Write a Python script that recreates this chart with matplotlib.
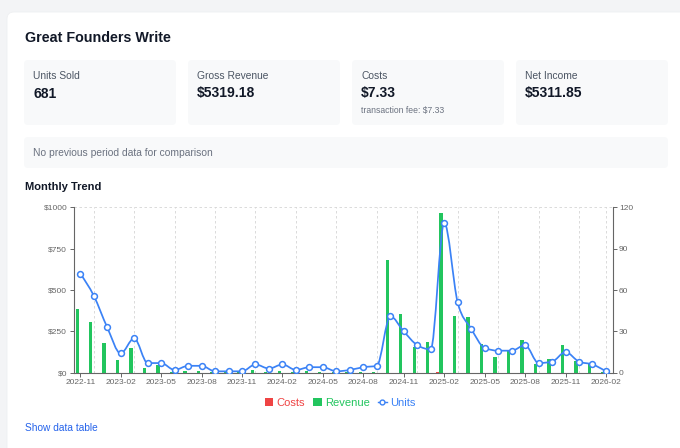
import numpy as np
import matplotlib
matplotlib.use("Agg")
import matplotlib.pyplot as plt
from matplotlib.patches import FancyBboxPatch, Patch, PathPatch
from matplotlib.lines import Line2D
from matplotlib.path import Path

# ---------------- data ----------------
months = ["2022-11", "2022-12", "2023-01", "2023-02", "2023-03", "2023-04", "2023-05", "2023-06",
          "2023-07", "2023-08", "2023-09", "2023-10", "2023-11", "2023-12", "2024-01", "2024-02",
          "2024-03", "2024-04", "2024-05", "2024-06", "2024-07", "2024-08", "2024-09", "2024-10",
          "2024-11", "2024-12", "2025-01", "2025-02", "2025-03", "2025-04", "2025-05", "2025-06",
          "2025-07", "2025-08", "2025-09", "2025-10", "2025-11", "2025-12", "2026-01", "2026-02"]
revenue = [385, 309, 182, 75, 150, 28, 45, 5, 12, 12, 2, 2, 2, 16, 5, 10, 3, 8, 6, 2,
           2, 6, 3, 680, 356, 154, 186, 966, 343, 335, 174, 97, 135, 196, 50, 81, 168, 73, 50, 5]
costs = [0.53, 0.43, 0.25, 0.10, 0.21, 0.04, 0.06, 0.01, 0.02, 0.02, 0.0, 0.0, 0.0, 0.02, 0.01,
         0.01, 0.0, 0.01, 0.01, 0.0, 0.0, 0.01, 0.01, 0.94, 0.49, 0.21, 0.26, 1.33, 0.47, 0.46,
         0.24, 0.13, 0.19, 0.27, 0.07, 0.11, 0.23, 0.10, 0.07, 0.01]
units = [72, 56, 33, 14, 25, 7, 7, 2, 5, 5, 1, 1, 1, 6, 3, 6, 2, 4, 4, 1,
         2, 4, 5, 41, 30, 20, 17, 109, 51, 32, 18, 16, 16, 20, 7, 8, 15, 8, 6, 1]

title = "Great Founders Write"
stat_labels = ["Units Sold", "Gross Revenue", "Costs", "Net Income"]
stat_values = ["681", "$5319.18", "$7.33", "$5311.85"]
cost_note = "transaction fee: $7.33"
comparison_text = "No previous period data for comparison"
chart_title = "Monthly Trend"
link_text = "Show data table"
left_ticks = [0, 250, 500, 750, 1000]
left_ticklabels = ["$0", "$250", "$500", "$750", "$1000"]
right_ticks = [0, 30, 60, 90, 120]
legend_labels = ["Costs", "Revenue", "Units"]

# ---------------- style ----------------
C_COST = "#ef4444"
C_REV = "#22c55e"
C_UNITS = "#3b82f6"
AXIS_C = "#666666"
FONT = ["Liberation Sans", "DejaVu Sans"]
plt.rcParams["font.family"] = FONT

W, H = 680, 448
fig = plt.figure(figsize=(W / 100, H / 100), dpi=100)
fig.patch.set_facecolor("#f3f4f6")

bg = fig.add_axes([0, 0, 1, 1])
bg.set_xlim(0, W)
bg.set_ylim(H, 0)
bg.axis("off")

# card
bg.add_patch(FancyBboxPatch((7, 12), 700, 460, boxstyle="round,pad=0,rounding_size=7",
                            facecolor="white", edgecolor="#eef0f2", linewidth=0.6))
bg.text(25, 38.5, title, fontsize=10.3, fontweight="bold", color="#111827", va="center", ha="left")

box_x = [24, 188, 352, 516]
for i, bx in enumerate(box_x):
    bg.add_patch(FancyBboxPatch((bx, 60), 152, 65, boxstyle="round,pad=0,rounding_size=4",
                                facecolor="#f8f9fa", edgecolor="none"))
    bg.text(bx + 9, 76, stat_labels[i], fontsize=7.4, color="#4b5563", va="center", ha="left")
    bg.text(bx + 9, 93.5, stat_values[i], fontsize=10, fontweight="bold", color="#111827",
            va="center", ha="left")
bg.text(box_x[2] + 9, 111, cost_note, fontsize=6.2, color="#6b7280", va="center", ha="left")

bg.add_patch(FancyBboxPatch((24, 137), 644, 31, boxstyle="round,pad=0,rounding_size=4",
                            facecolor="#f8f9fa", edgecolor="none"))
bg.text(33, 152.5, comparison_text, fontsize=7.4, color="#6b7280", va="center", ha="left")
bg.text(25, 187, chart_title, fontsize=8, fontweight="bold", color="#111827", va="center", ha="left")
bg.text(25, 428, link_text, fontsize=7.3, color="#2563eb", va="center", ha="left")

# ---------------- chart ----------------
L, R, T, B = 73.5, 612.7, 207.5, 372.7
ax = fig.add_axes([L / W, 1 - B / H, (R - L) / W, (B - T) / H])
ax.set_facecolor("none")
x = np.arange(len(months))
ax.set_xlim(-0.5, len(months) - 0.5)
ax.set_ylim(0, 1000)

# grid (vertical dashed lines offset by one month, plus top line)
for gx in list(range(1, len(months), 3)) + [len(months) - 1]:
    ax.axvline(gx, color="#d4d4d4", linestyle=(0, (3, 3)), linewidth=0.6, zorder=0)
ax.axhline(1000, color="#d4d4d4", linestyle=(0, (3, 3)), linewidth=0.6, zorder=0)

bw = 0.24
ax.bar(x - 0.23, revenue, width=bw, color=C_REV, zorder=2)
ax.bar(x - 0.23 - bw, costs, width=bw, color=C_COST, zorder=2)

ax.set_xticks(x[::3])
ax.set_xticklabels(months[::3])
ax.set_yticks(left_ticks)
ax.set_yticklabels(left_ticklabels)
for s in ["top", "right"]:
    ax.spines[s].set_visible(False)
for s in ["left", "bottom"]:
    ax.spines[s].set_color(AXIS_C)
    ax.spines[s].set_linewidth(0.8)
ax.tick_params(axis="both", colors=AXIS_C, labelsize=6, length=3, width=0.7, pad=1.5,
               labelcolor="#666666")

ax2 = ax.twinx()
ax2.set_ylim(0, 120)
ax2.set_yticks(right_ticks)
for s in ["top", "left", "bottom"]:
    ax2.spines[s].set_visible(False)
ax2.spines["right"].set_color(AXIS_C)
ax2.spines["right"].set_linewidth(0.8)
ax2.tick_params(axis="y", colors=AXIS_C, labelsize=6, length=3, width=0.7, pad=1.5,
                labelcolor="#666666")

# monotone-x cubic curve (as d3 curveMonotoneX) built as Bezier path
xs = x.astype(float)
ys = np.asarray(units, dtype=float)
n = len(xs)
h = np.diff(xs)
s = np.diff(ys) / h
t = np.zeros(n)
for i in range(1, n - 1):
    s0, s1 = s[i - 1], s[i]
    p = (s0 * h[i] + s1 * h[i - 1]) / (h[i - 1] + h[i])
    t[i] = (np.sign(s0) + np.sign(s1)) * min(abs(s0), abs(s1), 0.5 * abs(p))
t[0] = (3 * s[0] - t[1]) / 2
t[-1] = (3 * s[-1] - t[-2]) / 2
verts = [(xs[0], ys[0])]
codes = [Path.MOVETO]
for i in range(n - 1):
    dx = (xs[i + 1] - xs[i]) / 3
    verts += [(xs[i] + dx, ys[i] + dx * t[i]), (xs[i + 1] - dx, ys[i + 1] - dx * t[i + 1]),
              (xs[i + 1], ys[i + 1])]
    codes += [Path.CURVE4] * 3
ax2.add_patch(PathPatch(Path(verts, codes), facecolor="none", edgecolor=C_UNITS,
                        linewidth=1.25, zorder=3))
ax2.plot(xs, ys, linestyle="none", marker="o", markersize=4.2, markerfacecolor="white",
         markeredgecolor=C_UNITS, markeredgewidth=1.1, zorder=4)

# legend
handles = [Patch(facecolor=C_COST), Patch(facecolor=C_REV),
           Line2D([0], [0], color=C_UNITS, marker="o", markersize=3.5, markerfacecolor="white",
                  markeredgecolor=C_UNITS, linewidth=1.0)]
fig.legend(handles, legend_labels, loc="center", bbox_to_anchor=(340 / W, 1 - 403 / H), ncol=3,
           frameon=False, fontsize=8, labelcolor=[C_COST, C_REV, C_UNITS], handlelength=0.8,
           handleheight=0.8, handletextpad=0.3, columnspacing=0.7)

fig.savefig("out.png", dpi=100, facecolor=fig.get_facecolor())
